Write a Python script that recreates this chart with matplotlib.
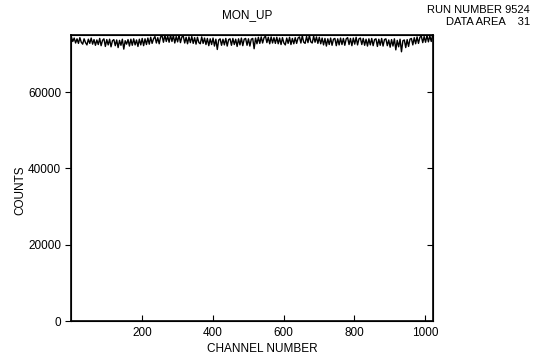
import matplotlib
matplotlib.use("Agg")
import matplotlib.pyplot as plt
import numpy as np

plt.rcParams['font.family'] = ['Liberation Sans', 'DejaVu Sans']

# counts, one value per 4 channels
counts = [
    74500, 73300, 74200, 72900, 74000, 72800, 74300, 73100, 72600, 74000, 73000, 72400, 73900, 72800, 74200, 72600,
    73800, 72300, 73700, 72500, 74100, 72200, 73600, 74000, 72000, 73800, 72400, 73900, 71900, 73500, 73800, 72200,
    73700, 71700, 73600, 72300, 73900, 71300, 73500, 72600, 73800, 72100, 73900, 72300, 74000, 72400, 73700, 72000,
    73900, 72400, 74100, 72200, 74000, 72500, 74200, 72600, 74400, 72800, 74000, 74600, 72900, 74300, 72700, 74500,
    74800, 73100, 75000, 73300, 74700, 73100, 75000, 73300, 74900, 72900, 74600, 73200, 75000, 73000, 74500, 74700,
    72900, 74400, 72700, 74500, 73000, 74600, 72800, 74300, 72600, 74400, 73000, 72700, 74500, 72800, 74200, 72500,
    74100, 72200, 74000, 72500, 74200, 72100, 73900, 71200, 73700, 74000, 72300, 73900, 72400, 74100, 72100, 73800,
    74000, 72300, 74100, 72500, 73900, 72000, 74000, 72400, 74200, 72200, 73900, 74100, 72300, 74000, 72100, 73900,
    74100, 71400, 74200, 72700, 74400, 72800, 74500, 72900, 74300, 74700, 73000, 74400, 72700, 74500, 72900, 74300,
    72800, 74400, 72700, 74200, 72500, 74300, 72900, 72400, 74200, 72800, 74400, 72500, 74100, 72700, 74300, 72800,
    74200, 74500, 72900, 74800, 73100, 72800, 74600, 73000, 74900, 73200, 72900, 74700, 73100, 74500, 72800, 74400,
    72700, 74200, 72400, 74100, 72100, 74000, 72500, 74200, 72300, 73900, 74100, 72200, 74000, 72400, 74200, 72500,
    74100, 72300, 74000, 74300, 72500, 74100, 72200, 74200, 72600, 74400, 72400, 74000, 74200, 72500, 74100, 72300,
    73900, 72100, 74000, 72400, 74100, 72200, 73800, 74000, 72000, 73900, 72300, 74100, 72100, 73800, 74000, 72200,
    73700, 71800, 73800, 72100, 74000, 71100, 73600, 71900, 73900, 70600, 73500, 73700, 71700, 73800, 72000, 73900,
    74100, 72400, 74300, 72700, 74500, 72800, 74400, 74700, 73000, 74600, 73100, 74900, 73200, 74800, 73300, 75000,
]
channels = np.arange(len(counts)) * 4 + 1

fig = plt.figure(figsize=(5.36, 3.58), dpi=100)
ax = fig.add_axes([71 / 536, 1 - 321 / 358, (433 - 71) / 536, (321 - 35) / 358])

ax.plot(channels, counts, color='black', lw=1.0)

ax.set_xlim(0, 1022)
ax.set_ylim(0, 75000)
ax.set_xticks([200, 400, 600, 800, 1000])
ax.set_yticks([0, 20000, 40000, 60000])
ax.tick_params(axis='x', direction='in', length=4, labelsize=8.5, pad=4)
ax.tick_params(axis='y', direction='out', length=4, labelsize=8.5, pad=3)
for s in ax.spines.values():
    s.set_linewidth(1.2)

# inward ticks on the right side
ax2 = ax.twinx()
ax2.set_ylim(0, 75000)
ax2.set_yticks([20000, 40000, 60000])
ax2.tick_params(axis='y', direction='in', length=4, labelright=False)

fig.text(262 / 536, 1 - 349 / 358, 'CHANNEL NUMBER', ha='center', va='center', fontsize=8.5)
fig.text(20 / 536, 1 - 190 / 358, 'COUNTS', ha='center', va='center', rotation=90, fontsize=8.5)
fig.text(247 / 536, 1 - 15 / 358, 'MON_UP', ha='center', va='center', fontsize=8.5)
fig.text(530 / 536, 1 - 10 / 358, 'RUN NUMBER 9524', ha='right', va='center', fontsize=8)
fig.text(530 / 536, 1 - 22 / 358, 'DATA AREA    31', ha='right', va='center', fontsize=8)

fig.savefig('out.png', dpi=100)
